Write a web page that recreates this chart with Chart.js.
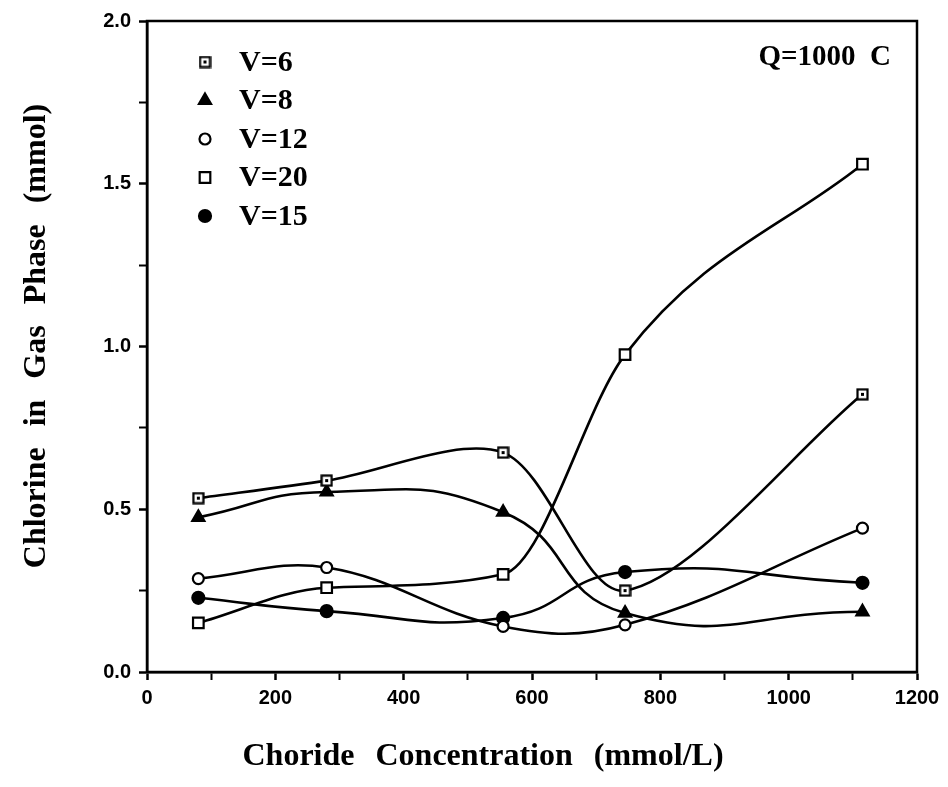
<!DOCTYPE html>
<html>
<head>
<meta charset="utf-8">
<script src="https://cdn.jsdelivr.net/npm/chart.js@4/dist/chart.umd.min.js"></script>
<style>
  html, body { margin: 0; padding: 0; background: #fff; }
  canvas { display: block; }
</style>
</head>
<body>
<canvas id="chart" width="948" height="787"></canvas>
<script>
// Datos
const concentration = [80, 280, 555, 745, 1115];
const v6  = [0.534, 0.588, 0.674, 0.250, 0.853];
const v8  = [0.475, 0.553, 0.491, 0.181, 0.185];
const v12 = [0.287, 0.321, 0.140, 0.145, 0.442];
const v20 = [0.151, 0.259, 0.300, 0.975, 1.560];
const v15 = [0.228, 0.187, 0.166, 0.307, 0.274];
const seriesLabels = ["V=6", "V=8", "V=12", "V=20", "V=15"];
const xLabelStep = 200;
const yLabelStep = 0.5;

const serif = '"Liberation Serif", "Times New Roman", serif';
const sans = '"Liberation Sans", Arial, sans-serif';

// Cuadrado con punto (V=6)
function dottedSquare() {
  const c = document.createElement("canvas");
  c.width = 13; c.height = 13;
  const g = c.getContext("2d");
  g.fillStyle = "#fff";
  g.fillRect(1, 1, 11, 11);
  g.strokeStyle = "#000";
  g.lineWidth = 2.2;
  g.strokeRect(1.5, 1.5, 10, 10);
  g.fillStyle = "#000";
  g.fillRect(5, 5, 3, 3);
  return c;
}

function points(values) {
  return values.map((v, i) => ({x: concentration[i], y: v}));
}

function series(label, values, style, radius, fill, tension) {
  return {
    label: label,
    data: points(values),
    borderColor: "#000",
    borderWidth: 2.6,
    tension: tension,
    pointStyle: style,
    pointRadius: radius,
    pointHoverRadius: radius,
    pointBackgroundColor: fill,
    pointBorderColor: "#000",
    pointBorderWidth: 2.2
  };
}

const datasets = [
  series(seriesLabels[0], v6, dottedSquare(), 7, "#fff", 0.3),
  series(seriesLabels[1], v8, "triangle", 7, "#000", 0.5),
  series(seriesLabels[2], v12, "circle", 5.5, "#fff", 0.4),
  series(seriesLabels[3], v20, "rect", 7.5, "#fff", 0.4),
  series(seriesLabels[4], v15, "circle", 6, "#000", 0.5)
];
datasets[3].cubicInterpolationMode = "monotone";

// Marco, leyenda y textos
const extras = {
  id: "extras",
  afterDraw(chart) {
    const ctx = chart.ctx;
    const a = chart.chartArea;
    ctx.save();
    ctx.strokeStyle = "#000";
    ctx.lineWidth = 2.5;
    ctx.strokeRect(a.left, a.top, a.right - a.left, a.bottom - a.top);

    ctx.fillStyle = "#000";
    ctx.textBaseline = "middle";
    ctx.font = "bold 30px " + serif;
    chart.data.datasets.forEach((ds, i) => {
      const y = a.top + 41 + i * 38.5;
      ctx.fillStyle = ds.pointBackgroundColor;
      ctx.strokeStyle = "#000";
      ctx.lineWidth = ds.pointBorderWidth;
      Chart.helpers.drawPoint(ctx, {
        pointStyle: ds.pointStyle, radius: ds.pointRadius, rotation: 0,
        borderWidth: ds.pointBorderWidth
      }, a.left + 58, y);
      ctx.fillStyle = "#000";
      ctx.textAlign = "left";
      ctx.fillText(ds.label, a.left + 92, y + 1);
    });

    ctx.textAlign = "right";
    ctx.font = "bold 29px " + serif;
    ctx.fillText("Q=1000  C", a.right - 26, a.top + 37);

    ctx.font = "bold 32px " + serif;
    ctx.wordSpacing = "13px";
    ctx.textAlign = "center";
    ctx.fillText("Choride Concentration (mmol/L)", 483, 757);
    ctx.translate(37, 336);
    ctx.rotate(-Math.PI / 2);
    ctx.fillText("Chlorine in Gas Phase (mmol)", 0, 0);
    ctx.restore();
  }
};

new Chart(document.getElementById("chart"), {
  type: "line",
  data: { datasets: datasets },
  plugins: [extras],
  options: {
    responsive: false,
    animation: false,
    layout: { padding: { left: 0, top: 21, right: 31, bottom: 0 } },
    plugins: { legend: { display: false }, tooltip: { enabled: false } },
    scales: {
      x: {
        type: "linear", min: 0, max: 1200,
        afterFit: s => { s.height = 115; },
        border: { display: true, color: "#000", width: 2.5 },
        grid: { drawOnChartArea: false, color: "#000", tickColor: "#000", tickLength: 8,
                tickWidth: c => (c.tick && c.tick.value % xLabelStep === 0) ? 2.5 : 2 },
        ticks: {
          stepSize: 100, autoSkip: false, maxRotation: 0, color: "#000", padding: 6,
          font: { family: sans, size: 20, weight: "bold" },
          callback: v => v % xLabelStep === 0 ? v : ""
        }
      },
      y: {
        type: "linear", min: 0, max: 2,
        afterFit: s => { s.width = 147; },
        border: { display: true, color: "#000", width: 2.5 },
        grid: { drawOnChartArea: false, color: "#000", tickColor: "#000", tickLength: 8,
                tickWidth: c => (c.tick && Math.abs(c.tick.value / yLabelStep - Math.round(c.tick.value / yLabelStep)) < 1e-6) ? 2.5 : 2 },
        ticks: {
          stepSize: 0.25, autoSkip: false, color: "#000", padding: 8,
          font: { family: sans, size: 20, weight: "bold" },
          callback: v => Math.abs(v / yLabelStep - Math.round(v / yLabelStep)) < 1e-6 ? v.toFixed(1) : ""
        }
      }
    }
  }
});
</script>
</body>
</html>
